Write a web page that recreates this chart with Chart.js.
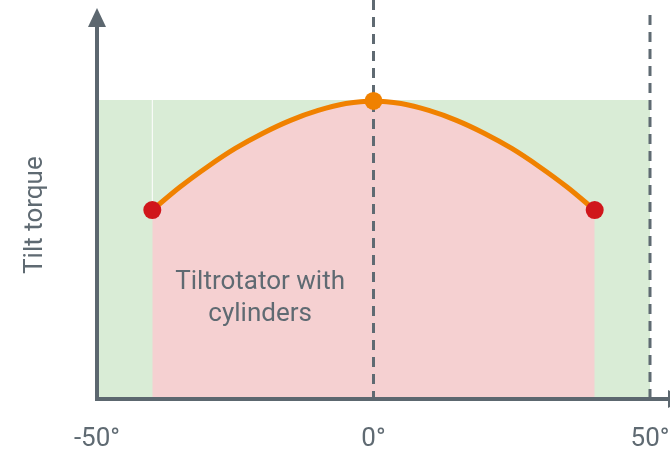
<!DOCTYPE html>
<html>
<head>
<meta charset="utf-8">
<script src="https://cdn.jsdelivr.net/npm/chart.js@4"></script>
<style>
  html, body { margin: 0; padding: 0; background: #ffffff; }
  #wrap { width: 670px; height: 450px; }
</style>
</head>
<body>
<div id="wrap"><canvas id="c" width="670" height="450"></canvas></div>
<script>
// ---- data ----
const angles = [-40, -35, -30, -25, -20, -15, -10, -5, 0, 5, 10, 15, 20, 25, 30, 35, 40];
const torque = [0.632, 0.709, 0.777, 0.838, 0.889, 0.932, 0.965, 0.988, 0.997, 0.988, 0.965, 0.932, 0.889, 0.838, 0.777, 0.709, 0.632];
const rangeMin = -50;
const rangeMax = 50;
const rangeTorque = 1.0;
const xTickValues = [-50, 0, 50];
const dashedAt = [0, 50];
const regionLabel = ['Tiltrotator with', 'cylinders'];
const yTitle = 'Tilt torque';

// ---- styles ----
const GREY = '#5c676f';
const TEXT = '#5f6a72';
const FONT = 'Roboto, "Liberation Sans", sans-serif';

const curvePts = angles.map((a, i) => ({ x: a, y: torque[i] }));
const first = curvePts[0], last = curvePts[curvePts.length - 1];
const peakIdx = torque.indexOf(Math.max(...torque));
const peak = curvePts[peakIdx];

const decor = {
  id: 'decor',
  afterDatasetsDraw(chart) {
    const { ctx, scales: { x, y }, chartArea } = chart;
    const x0 = x.getPixelForValue(rangeMin);
    const y0 = y.getPixelForValue(0);
    ctx.save();
    ctx.fillStyle = TEXT;
    ctx.font = '26px ' + FONT;
    ctx.textAlign = 'center';
    ctx.textBaseline = 'alphabetic';
    // region label
    const lx = x.getPixelForValue(-20.5);
    ctx.fillText(regionLabel[0], lx, y.getPixelForValue(0.368));
    ctx.fillText(regionLabel[1], lx, y.getPixelForValue(0.262));
    // y-axis title
    ctx.save();
    ctx.translate(42, y.getPixelForValue(0.615));
    ctx.rotate(-Math.PI / 2);
    ctx.fillText(yTitle, 0, 0);
    ctx.restore();
    // axes
    ctx.strokeStyle = GREY;
    ctx.fillStyle = GREY;
    ctx.lineWidth = 4;
    ctx.beginPath();
    ctx.moveTo(x0, y0 + 2);
    ctx.lineTo(x0, chartArea.top + 26);
    ctx.moveTo(x0 - 2, y0);
    ctx.lineTo(chartArea.right - 2, y0);
    ctx.stroke();
    // y arrow
    ctx.beginPath();
    ctx.moveTo(x0, chartArea.top + 8);
    ctx.lineTo(x0 - 9, chartArea.top + 27);
    ctx.lineTo(x0 + 9, chartArea.top + 27);
    ctx.closePath();
    ctx.fill();
    // x arrow (mostly outside)
    const xr = chartArea.right - 2;
    ctx.beginPath();
    ctx.moveTo(xr + 19, y0);
    ctx.lineTo(xr, y0 - 9);
    ctx.lineTo(xr, y0 + 9);
    ctx.closePath();
    ctx.fill();
    ctx.restore();
  }
};

const datasets = [
  {
    label: 'dots',
    data: [first, peak, last],
    showLine: false,
    pointRadius: 9,
    pointHoverRadius: 9,
    pointBorderWidth: 0,
    pointBackgroundColor: ['#d0161b', '#f08100', '#d0161b'],
    order: 0
  },
  ...dashedAt.map((v, i) => ({
    label: 'dash' + v,
    data: [{ x: v, y: 0 }, { x: v, y: i === 0 ? 1.34 : 1.305 }],
    showLine: true,
    borderColor: '#5f6a72',
    borderWidth: 3,
    borderDash: [10, 7],
    borderDashOffset: i === 0 ? 2 : 0,
    pointRadius: 0,
    fill: false,
    order: 1
  })),
  {
    label: 'edge',
    data: [{ x: first.x, y: first.y }, { x: first.x, y: rangeTorque }],
    showLine: true,
    borderColor: '#ffffff',
    borderWidth: 1,
    pointRadius: 0,
    fill: false,
    order: 2
  },
  {
    label: 'curve',
    data: curvePts,
    showLine: true,
    borderColor: '#f08100',
    borderWidth: 5,
    cubicInterpolationMode: 'monotone',
    pointRadius: 0,
    fill: 'origin',
    backgroundColor: '#f5d0d1',
    order: 3
  },
  {
    label: 'range',
    data: [{ x: rangeMin, y: rangeTorque }, { x: rangeMax, y: rangeTorque }],
    showLine: true,
    borderWidth: 0,
    borderColor: 'rgba(0,0,0,0)',
    pointRadius: 0,
    fill: 'origin',
    backgroundColor: '#d9ecd6',
    order: 4
  }
];

new Chart(document.getElementById('c'), {
  type: 'scatter',
  data: { datasets },
  options: {
    responsive: false,
    devicePixelRatio: 1,
    animation: false,
    events: [],
    layout: { autoPadding: false, padding: { left: 16, right: 0, top: 0, bottom: 0 } },
    plugins: { legend: { display: false }, tooltip: { enabled: false } },
    scales: {
      x: {
        type: 'linear',
        min: -50,
        max: -50 + 573 / 5.53,
        grid: { display: false, drawTicks: false },
        border: { display: false },
        afterBuildTicks(scale) { scale.ticks = xTickValues.map(v => ({ value: v })); },
        afterFit(scale) {
          scale.paddingRight = 0;
          scale.paddingLeft = 0;
          scale.height = 51;
        },
        ticks: {
          padding: 25,
          color: TEXT,
          font: { family: FONT, size: 26 },
          maxRotation: 0,
          autoSkip: false,
          callback: v => v + '°'
        }
      },
      y: {
        type: 'linear',
        min: 0,
        max: 399 / 299,
        grid: { display: false, drawTicks: false },
        border: { display: false },
        ticks: { display: false },
        afterFit(scale) { scale.width = 81; }
      }
    }
  },
  plugins: [decor]
});
</script>
</body>
</html>
